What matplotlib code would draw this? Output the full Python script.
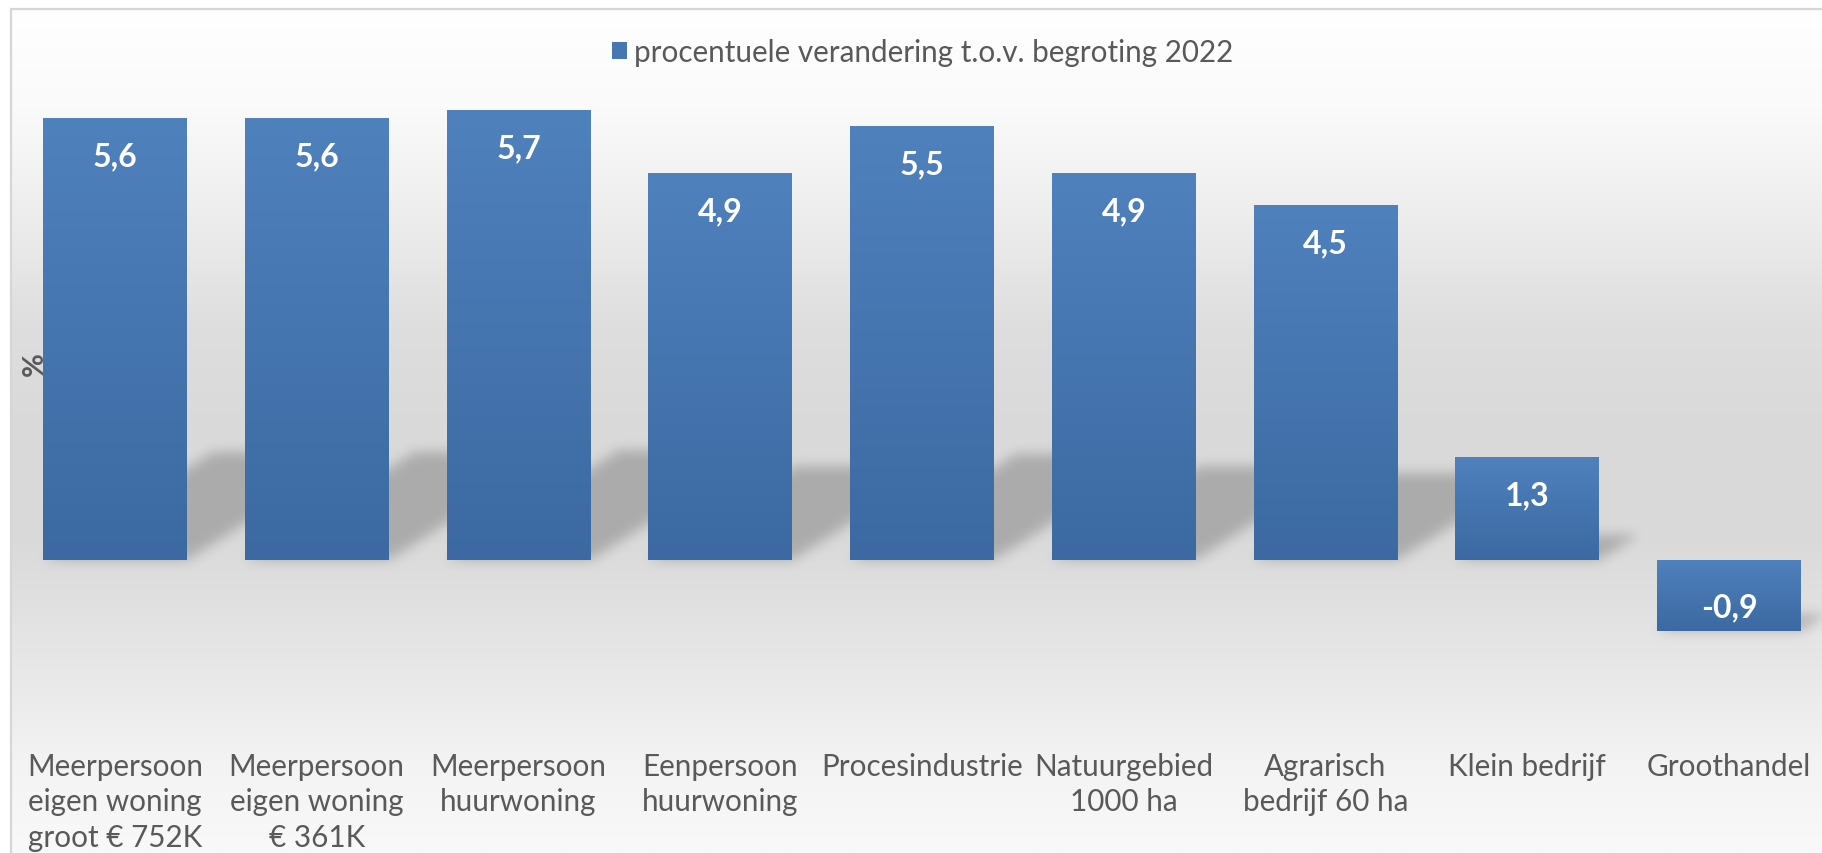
import numpy as np
import matplotlib
matplotlib.use("Agg")
import matplotlib.pyplot as plt
from matplotlib.patches import Patch
from matplotlib.colors import LinearSegmentedColormap

plt.rcParams['font.family'] = ['Lato', 'DejaVu Sans']

# ---------------- data ----------------
categories = [
    "Meerpersoon\neigen woning\ngroot € 752K",
    "Meerpersoon\neigen woning\n€ 361K",
    "Meerpersoon\nhuurwoning",
    "Eenpersoon\nhuurwoning",
    "Procesindustrie",
    "Natuurgebied\n1000 ha",
    "Agrarisch\nbedrijf 60 ha",
    "Klein bedrijf",
    "Groothandel",
]
values = [5.6, 5.6, 5.7, 4.9, 5.5, 4.9, 4.5, 1.3, -0.9]
series_name = "procentuele verandering t.o.v. begroting 2022"
y_label = "%"

# ---------------- layout ----------------
W, H, DPI = 1822, 854, 100
TEXT = '#595959'
BAR_TOP = '#4f81bd'
BAR_BOT = '#3c69a1'
BW = 0.713

fig = plt.figure(figsize=(W / DPI, H / DPI), dpi=DPI)
fig.patch.set_facecolor('white')

# chart-area background gradient + border
bg = fig.add_axes([0, 0, 1, 1], zorder=-10)
bg.set_xlim(0, W)
bg.set_ylim(H, 0)
bg.axis('off')
yy = np.linspace(9, H, 600)
stops_y = [9, 109, 218, 327, 436, 545, 654, 763, 854]
stops_v = [255, 250, 237, 222, 217, 218, 230, 243, 249]
g = np.interp(yy, stops_y, stops_v) / 255.0
img = np.repeat(g[:, None], 3, axis=1)[:, None, :]
bg.imshow(img, extent=(10, W + 20, H, 9), aspect='auto', origin='upper',
          interpolation='bilinear')
bg.plot([10.5, 10.5], [9, H + 5], color='#d6d6d6', lw=1.6, solid_capstyle='butt')
bg.plot([10, W + 5], [9.5, 9.5], color='#d6d6d6', lw=1.6, solid_capstyle='butt')
bg.set_xlim(0, W)
bg.set_ylim(H, 0)

# main axes (pixel mapping: baseline at y=561 px, 78.9 px per unit)
base_px, ppu = 561.0, 78.9
ymin, ymax = -2.2, 7.0
ax_bot_px = base_px - ymin * ppu
ax_top_px = base_px - ymax * ppu
left_px, right_px = 14.0, 1830.0
ax = fig.add_axes([left_px / W, 1 - ax_bot_px / H,
                   (right_px - left_px) / W, (ax_bot_px - ax_top_px) / H])
ax.patch.set_visible(False)
for s in ax.spines.values():
    s.set_visible(False)

x = np.arange(len(categories))
bars = ax.bar(x, values, width=BW, color=BAR_TOP, linewidth=0, zorder=2)

# soft perspective shadows behind bars
nx, ny = 1816, int(round(ax_bot_px - ax_top_px))
xs = np.linspace(-0.5, 8.5, nx)
ys = np.linspace(ymin, ymax, ny)
X, Y = np.meshgrid(xs, ys)
mask = np.zeros_like(X)
K, C = 0.245, 0.15
for i, v in enumerate(values):
    h = abs(v)
    yb = min(0.0, v)
    sh = K * h
    dx = C * h
    t = (Y - yb) / sh
    inside = (t >= 0) & (t <= 1) & (X >= i - BW / 2 + t * dx) & (X <= i + BW / 2 + t * dx)
    mask[inside] = 1.0
sig = 6.0
kx = np.arange(-int(3 * sig), int(3 * sig) + 1)
kern = np.exp(-kx ** 2 / (2 * sig ** 2))
kern /= kern.sum()
blur = np.apply_along_axis(lambda r: np.convolve(r, kern, mode='same'), 1, mask)
blur = np.apply_along_axis(lambda c: np.convolve(c, kern, mode='same'), 0, blur)
shadow = np.zeros((ny, nx, 4))
shadow[..., 3] = blur * 0.21
ax.imshow(shadow, extent=(-0.5, 8.5, ymin, ymax), origin='lower', aspect='auto',
          zorder=1, interpolation='bilinear')

# gradient fill on bars
cmap = LinearSegmentedColormap.from_list('bar', [BAR_BOT, BAR_TOP])
grad = np.linspace(0, 1, 256)[:, None]
for rect in bars:
    x0, w = rect.get_x(), rect.get_width()
    y0, hh = rect.get_y(), rect.get_height()
    lo, hi = min(y0, y0 + hh), max(y0, y0 + hh)
    im = ax.imshow(grad, cmap=cmap, extent=(x0, x0 + w, lo, hi), origin='lower',
                   aspect='auto', zorder=2.1, interpolation='bilinear')
    im.set_clip_path(rect)

# data labels (inside end)
for i, v in enumerate(values):
    lbl = f"{v:.1f}".replace('.', ',')
    off = -33.8 if v >= 0 else 10.8
    ax.annotate(lbl, xy=(i, v), xytext=(0, off), textcoords='offset points',
                ha='center', va='baseline', color='white', fontweight='bold',
                fontsize=23, zorder=3)

ax.set_xlim(-0.5, 8.5)
ax.set_ylim(ymin, ymax)
ax.set_yticks([])
ax.set_xticks(x)
ax.set_xticklabels(categories, fontsize=21.3, color=TEXT, linespacing=1.33)
ax.tick_params(axis='x', length=0, pad=13)

# y-axis title (sits behind the first bar)
ax.text(35 / W, 1 - 364 / H, y_label, transform=fig.transFigure, rotation=90,
        ha='center', va='center', fontsize=21, fontweight='bold', color=TEXT,
        zorder=1.5, clip_on=False)

# legend
ax.legend(handles=[Patch(facecolor='#4677b3', edgecolor='none')], labels=[series_name],
          loc='center', bbox_to_anchor=(923 / W, 1 - 53 / H), bbox_transform=fig.transFigure,
          frameon=False, handlelength=0.5, handleheight=0.5, handletextpad=0.25,
          fontsize=21.3, labelcolor=TEXT, borderpad=0, borderaxespad=0)

fig.savefig('out.png', dpi=DPI)
